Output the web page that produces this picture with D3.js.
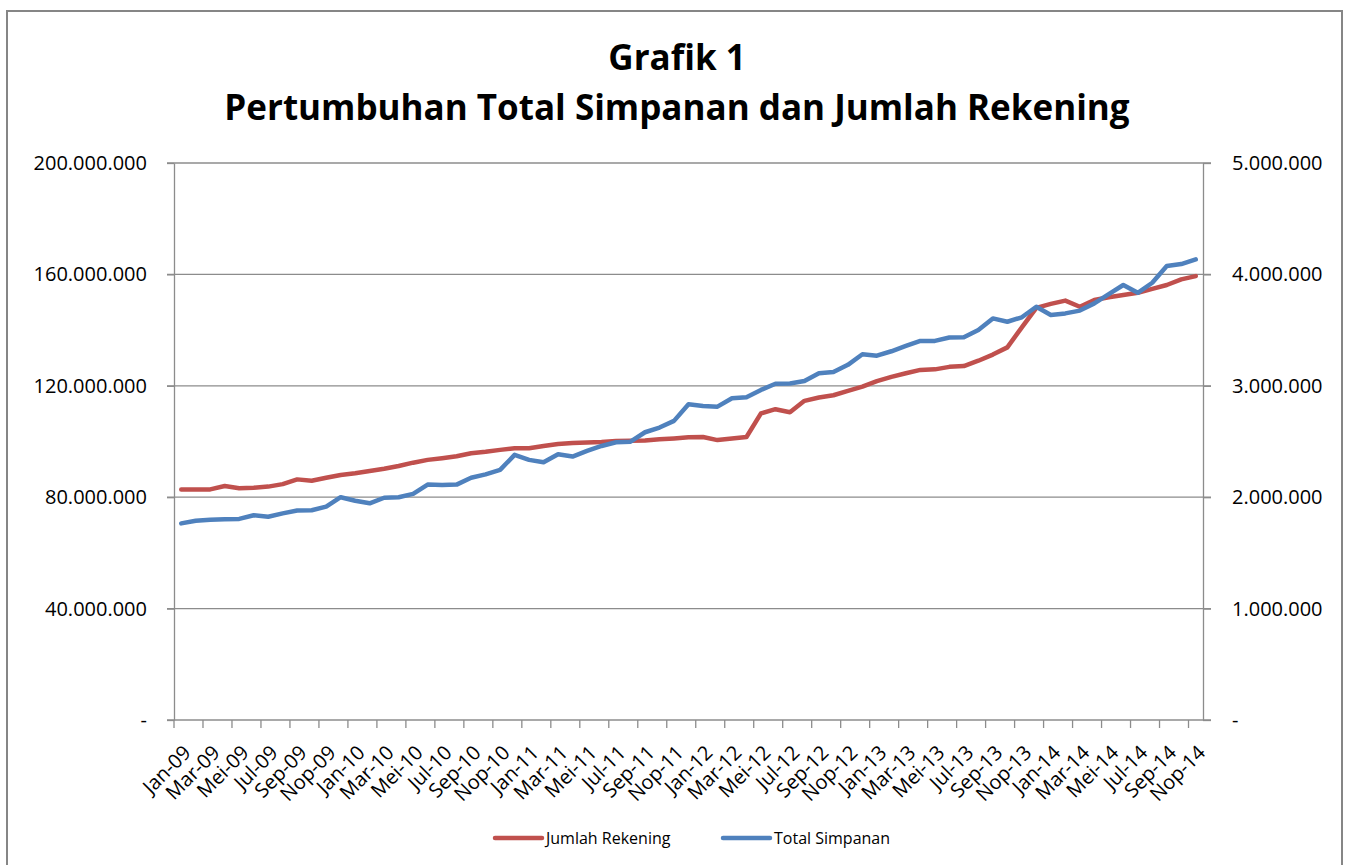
<!DOCTYPE html>
<html>
<head>
<meta charset="utf-8">
<script src="https://cdn.jsdelivr.net/npm/d3@7"></script>
<style>
  body { margin: 0; background: #fff; }
  svg { display: block; }
  text { font-family: "Open Sans", sans-serif; fill: #000; }
</style>
</head>
<body>
<svg width="1349" height="865"></svg>
<script>
// kategori bulanan Jan-09 .. Nop-14
var monthNames = ["Jan", "Feb", "Mar", "Apr", "Mei", "Jun", "Jul", "Agu", "Sep", "Okt", "Nop", "Des"];
var years = ["09", "10", "11", "12", "13", "14"];
var categories = [];
years.forEach(function (y) {
    monthNames.forEach(function (m) { categories.push(m + "-" + y); });
});
categories = categories.slice(0, 71);

// Jumlah Rekening (sumbu kiri)
var jumlahRekening = [
    82.8, 82.8, 82.8, 84.0, 83.2, 83.4, 83.8, 84.7, 86.4, 85.9, 87.0, 88.0,
    88.6, 89.4, 90.2, 91.2, 92.4, 93.4, 94.0, 94.7, 95.8, 96.3, 97.0, 97.6,
    97.6, 98.4, 99.1, 99.5, 99.6, 99.8, 100.2, 100.3, 100.4, 100.8, 101.1, 101.5,
    101.6, 100.5, 101.1, 101.6, 110.1, 111.6, 110.5, 114.6, 115.8, 116.6, 118.2, 119.7,
    121.7, 123.2, 124.5, 125.7, 125.9, 126.8, 127.1, 129.0, 131.2, 133.8, 141.0, 148.0,
    149.4, 150.6, 148.4, 150.8, 151.8, 152.6, 153.4, 154.8, 156.2, 158.2, 159.4
].map(function (v) { return v * 1e6; });

// Total Simpanan (sumbu kanan)
var totalSimpanan = [
    1765, 1788, 1798, 1803, 1805, 1838, 1825, 1855, 1880, 1883, 1915, 2000,
    1968, 1945, 1995, 2000, 2030, 2113, 2110, 2113, 2175, 2205, 2245, 2380,
    2335, 2313, 2385, 2365, 2415, 2460, 2493, 2498, 2583, 2625, 2685, 2835,
    2818, 2813, 2888, 2898, 2963, 3018, 3020, 3043, 3113, 3123, 3188, 3283,
    3270, 3310, 3358, 3403, 3403, 3433, 3435, 3500, 3605, 3575, 3615, 3710,
    3635, 3650, 3675, 3740, 3823, 3905, 3835, 3925, 4075, 4093, 4135
].map(function (v) { return v * 1e3; });

var leftTicks = [0, 40e6, 80e6, 120e6, 160e6, 200e6];
var rightTicks = [0, 1e6, 2e6, 3e6, 4e6, 5e6];

var plot = { left: 174, right: 1203, top: 163, bottom: 720 };

var idFormat = d3.formatLocale({ decimal: ",", thousands: ".", grouping: [3], currency: ["Rp", ""] }).format(",d");
function fmt(v) { return v === 0 ? "-" : idFormat(v); }

var svg = d3.select("svg");

// bingkai
svg.append("rect")
    .attr("x", 7).attr("y", 11)
    .attr("width", 1335).attr("height", 880)
    .attr("fill", "none")
    .attr("stroke", "#868686")
    .attr("stroke-width", 2);

var x = d3.scaleBand().domain(categories).range([plot.left, plot.right]).padding(0);
var yLeft = d3.scaleLinear().domain([0, 200e6]).range([plot.bottom, plot.top]);
var yRight = d3.scaleLinear().domain([0, 5e6]).range([plot.bottom, plot.top]);

// judul
var title = svg.append("g").attr("font-weight", "bold").attr("text-anchor", "middle");
title.append("text").attr("x", 677).attr("y", 70).attr("font-size", 35).text("Grafik 1");
title.append("text").attr("x", 677).attr("y", 120).attr("font-size", 35)
    .text("Pertumbuhan Total Simpanan dan Jumlah Rekening");

// garis grid
svg.append("g").selectAll("line")
    .data(leftTicks.slice(1))
    .enter().append("line")
    .attr("x1", plot.left - 7).attr("x2", plot.right + 8)
    .attr("y1", function (d) { return yLeft(d); })
    .attr("y2", function (d) { return yLeft(d); })
    .attr("stroke", "#8c8c8c").attr("stroke-width", 1.3);

// sumbu kiri
var axL = svg.append("g")
    .attr("transform", "translate(" + plot.left + ",0)")
    .call(d3.axisLeft(yLeft).tickValues(leftTicks).tickFormat(fmt).tickSize(7).tickSizeOuter(0).tickPadding(20));

// sumbu kanan
var axR = svg.append("g")
    .attr("transform", "translate(" + plot.right + ",0)")
    .call(d3.axisRight(yRight).tickValues(rightTicks).tickFormat(fmt).tickSize(8).tickSizeOuter(0).tickPadding(21));

[axL, axR].forEach(function (ax) {
    ax.selectAll("path, line").attr("stroke", "#8c8c8c").attr("stroke-width", 1.3);
    ax.selectAll("text").attr("font-size", 20).attr("fill", "#000")
        .style("font-family", "'Open Sans', sans-serif");
});

// sumbu bawah
var axB = svg.append("g");
axB.append("line")
    .attr("x1", plot.left - 7).attr("x2", plot.right + 8)
    .attr("y1", plot.bottom).attr("y2", plot.bottom)
    .attr("stroke", "#8c8c8c").attr("stroke-width", 1.3);
var even = categories.filter(function (d, i) { return i % 2 === 0; });
axB.selectAll(".tick")
    .data(even)
    .enter().append("line")
    .attr("x1", function (d) { return x(d); })
    .attr("x2", function (d) { return x(d); })
    .attr("y1", plot.bottom).attr("y2", plot.bottom + 8)
    .attr("stroke", "#8c8c8c").attr("stroke-width", 1.3);
axB.selectAll(".lbl")
    .data(even)
    .enter().append("text")
    .attr("transform", function (d) {
        return "translate(" + (x(d) + x.bandwidth() / 2 + 6) + "," + (plot.bottom + 29) + ") rotate(-45)";
    })
    .attr("text-anchor", "end")
    .attr("dy", "0.35em")
    .attr("font-size", 20)
    .text(function (d) { return d; });

// garis data
var lineLeft = d3.line()
    .x(function (d, i) { return x(categories[i]) + x.bandwidth() / 2; })
    .y(function (d) { return yLeft(d); });
var lineRight = d3.line()
    .x(function (d, i) { return x(categories[i]) + x.bandwidth() / 2; })
    .y(function (d) { return yRight(d); });

svg.append("path").datum(jumlahRekening)
    .attr("d", lineLeft)
    .attr("fill", "none").attr("stroke", "#C0504D").attr("stroke-width", 4.5)
    .attr("stroke-linejoin", "round").attr("stroke-linecap", "round");
svg.append("path").datum(totalSimpanan)
    .attr("d", lineRight)
    .attr("fill", "none").attr("stroke", "#4F81BD").attr("stroke-width", 4.5)
    .attr("stroke-linejoin", "round").attr("stroke-linecap", "round");

// legenda
var legendItems = [
    { name: "Jumlah Rekening", color: "#C0504D", x: 495 },
    { name: "Total Simpanan", color: "#4F81BD", x: 723 }
];
var lg = svg.append("g").selectAll("g")
    .data(legendItems)
    .enter().append("g")
    .attr("transform", function (d) { return "translate(" + d.x + ",838)"; });
lg.append("line")
    .attr("x1", 0).attr("x2", 47)
    .attr("stroke", function (d) { return d.color; })
    .attr("stroke-width", 4.5).attr("stroke-linecap", "round");
lg.append("text")
    .attr("x", 51).attr("dy", "0.35em")
    .attr("font-size", 16)
    .text(function (d) { return d.name; });
</script>
</body>
</html>
